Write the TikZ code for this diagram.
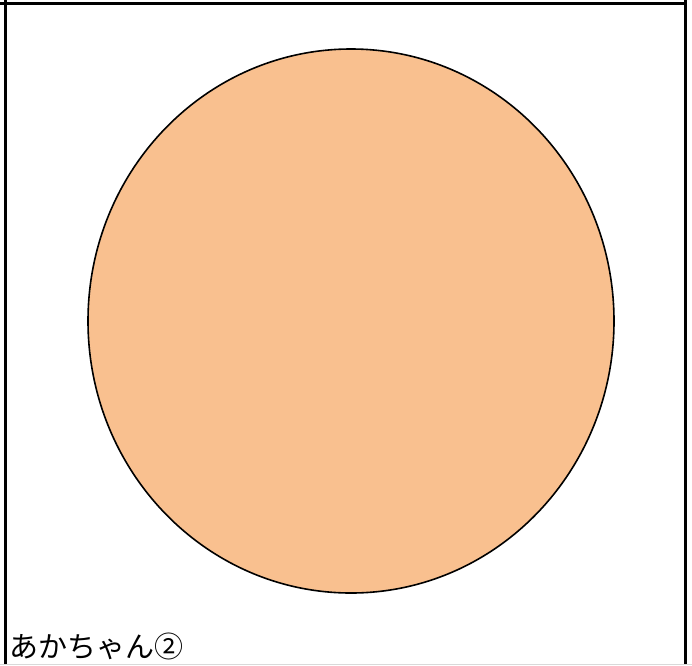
\documentclass[tikz,border=0pt]{standalone}
\usepackage{fontspec}
\usetikzlibrary{shapes.geometric}
\newfontfamily\cjk{Noto Sans CJK JP}
\definecolor{peach}{HTML}{F9C08F}
\begin{document}
\begin{tikzpicture}[x=1pt,y=-1pt,
  frameline/.style={line width=3pt,black},
  blob/.style={draw=black,line width=1.6pt,fill=peach}]
\useasboundingbox (0,0) rectangle (692,665);
\draw[frameline] (0,3) -- (686,3);
\draw[frameline] (5,0) -- (5,665);
\draw[frameline] (685,0) -- (685,665);
\draw[line width=1pt,black!15] (0,664) -- (692,664);
\node[blob,ellipse,minimum width=526pt,minimum height=544pt,inner sep=0pt] (c) at (351,321) {};
\node[anchor=base west,inner sep=0pt,font=\cjk\fontsize{29pt}{29pt}\selectfont] (t) at (9,657) {あかちゃん②};
\end{tikzpicture}
\end{document}
